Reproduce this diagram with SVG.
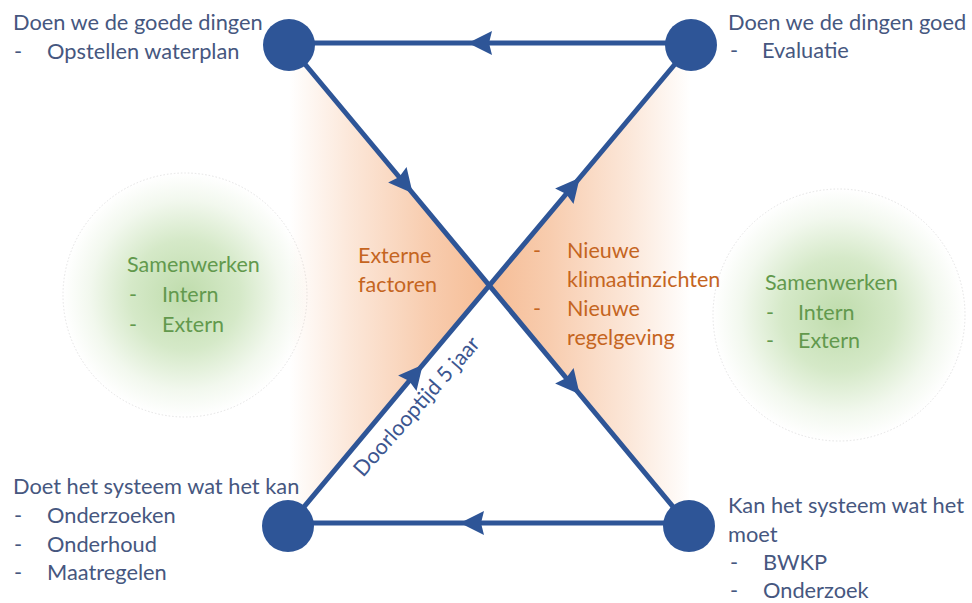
<svg xmlns="http://www.w3.org/2000/svg" width="972" height="603" viewBox="0 0 972 603">
  <style>
    .lbl { font-family: Lato, "Liberation Sans", sans-serif; font-size: 21.8px; fill: #46577F; }
    .grn { font-family: Lato, "Liberation Sans", sans-serif; font-size: 21.5px; fill: #62994D; }
    .org { font-family: Lato, "Liberation Sans", sans-serif; font-size: 21.5px; fill: #C5651F; }
    .dur { font-family: Lato, "Liberation Sans", sans-serif; font-size: 21.5px; fill: #3C5690; }
    .node { fill: #2E5597; }
    .conn { fill: none; stroke: #2E5597; stroke-width: 5; marker-mid: url(#arr); }
    .halo { stroke: #E4E4E4; stroke-width: 1; stroke-dasharray: 1.5 2; }
  </style>
  <defs>
    <marker id="arr" viewBox="0 0 24 24" markerWidth="24" markerHeight="24" markerUnits="userSpaceOnUse" refX="12" refY="12" orient="auto">
      <path d="M0,0 L24,12 L0,24 L3,12 z" fill="#2E5597"/>
    </marker>
    <linearGradient id="orL" gradientUnits="userSpaceOnUse" x1="289" y1="0" x2="489" y2="0">
      <stop offset="0" stop-color="#F4B183" stop-opacity="0"/>
      <stop offset="0.3" stop-color="#F4B183" stop-opacity="0.3"/>
      <stop offset="0.7" stop-color="#F4B183" stop-opacity="0.65"/>
      <stop offset="1" stop-color="#F4B183" stop-opacity="0.85"/>
    </linearGradient>
    <linearGradient id="orR" gradientUnits="userSpaceOnUse" x1="489" y1="0" x2="691" y2="0">
      <stop offset="0" stop-color="#F4B183" stop-opacity="0.85"/>
      <stop offset="0.3" stop-color="#F4B183" stop-opacity="0.65"/>
      <stop offset="0.7" stop-color="#F4B183" stop-opacity="0.3"/>
      <stop offset="1" stop-color="#F4B183" stop-opacity="0"/>
    </linearGradient>
    <radialGradient id="grn">
      <stop offset="0" stop-color="#BFDCAC"/>
      <stop offset="0.45" stop-color="#D5E9C8"/>
      <stop offset="0.78" stop-color="#F2F8EE"/>
      <stop offset="1" stop-color="#FFFFFF"/>
    </radialGradient>
  </defs>
  <rect width="972" height="603" fill="#FFFFFF"/>

  <g id="background">
    <circle class="halo" cx="185" cy="295" r="122" fill="url(#grn)"/>
    <circle class="halo" cx="839" cy="315" r="126" fill="url(#grn)"/>
    <polygon points="289,45 489,285 288,526" fill="url(#orL)"/>
    <polygon points="691,45 489,285 689,526" fill="url(#orR)"/>
  </g>

  <g id="connectors">
    <polyline class="conn" points="691,43 480,43 289,43"/>
    <polyline class="conn" points="289,45 405,184 572,385 689,526"/>
    <polyline class="conn" points="689,523 472,523 288,523"/>
    <polyline class="conn" points="288,526 415,374 572,187 691,45"/>
  </g>

  <g id="node-tl">
    <circle class="node" cx="289" cy="45" r="26"/>
    <text class="lbl" x="13" y="30">Doen we de goede dingen</text>
    <text class="lbl" x="14" y="59">-</text>
    <text class="lbl" x="47" y="59">Opstellen waterplan</text>
  </g>
  <g id="node-tr">
    <circle class="node" cx="691" cy="45" r="26"/>
    <text class="lbl" x="728" y="30">Doen we de dingen goed</text>
    <text class="lbl" x="730" y="58">-</text>
    <text class="lbl" x="762" y="58">Evaluatie</text>
  </g>
  <g id="node-bl">
    <circle class="node" cx="288" cy="526" r="26"/>
    <text class="lbl" x="13" y="494">Doet het systeem wat het kan</text>
    <text class="lbl" x="14" y="523">-</text>
    <text class="lbl" x="47" y="523">Onderzoeken</text>
    <text class="lbl" x="14" y="552">-</text>
    <text class="lbl" x="47" y="552">Onderhoud</text>
    <text class="lbl" x="14" y="580">-</text>
    <text class="lbl" x="47" y="580">Maatregelen</text>
  </g>
  <g id="node-br">
    <circle class="node" cx="689" cy="526" r="26"/>
    <text class="lbl" x="728" y="513">Kan het systeem wat het</text>
    <text class="lbl" x="728" y="542">moet</text>
    <text class="lbl" x="730" y="570">-</text>
    <text class="lbl" x="763" y="570">BWKP</text>
    <text class="lbl" x="730" y="598">-</text>
    <text class="lbl" x="763" y="598">Onderzoek</text>
  </g>

  <g id="samenwerken-left">
    <text class="grn" x="127" y="272">Samenwerken</text>
    <text class="grn" x="129" y="302">-</text>
    <text class="grn" x="162" y="302">Intern</text>
    <text class="grn" x="129" y="332">-</text>
    <text class="grn" x="162" y="332">Extern</text>
  </g>
  <g id="samenwerken-right">
    <text class="grn" x="765" y="290">Samenwerken</text>
    <text class="grn" x="766" y="320">-</text>
    <text class="grn" x="798" y="320">Intern</text>
    <text class="grn" x="766" y="348">-</text>
    <text class="grn" x="798" y="348">Extern</text>
  </g>

  <g id="externe-factoren">
    <text class="org" x="358" y="263">Externe</text>
    <text class="org" x="358" y="292">factoren</text>
  </g>
  <g id="nieuwe">
    <text class="org" x="533" y="258">-</text>
    <text class="org" x="567" y="258">Nieuwe</text>
    <text class="org" x="567" y="287">klimaatinzichten</text>
    <text class="org" x="533" y="316">-</text>
    <text class="org" x="567" y="316">Nieuwe</text>
    <text class="org" x="567" y="345">regelgeving</text>
  </g>

  <g id="doorlooptijd">
    <text class="dur" transform="translate(363,478) rotate(-48.5)">Doorlooptijd 5 jaar</text>
  </g>
</svg>
